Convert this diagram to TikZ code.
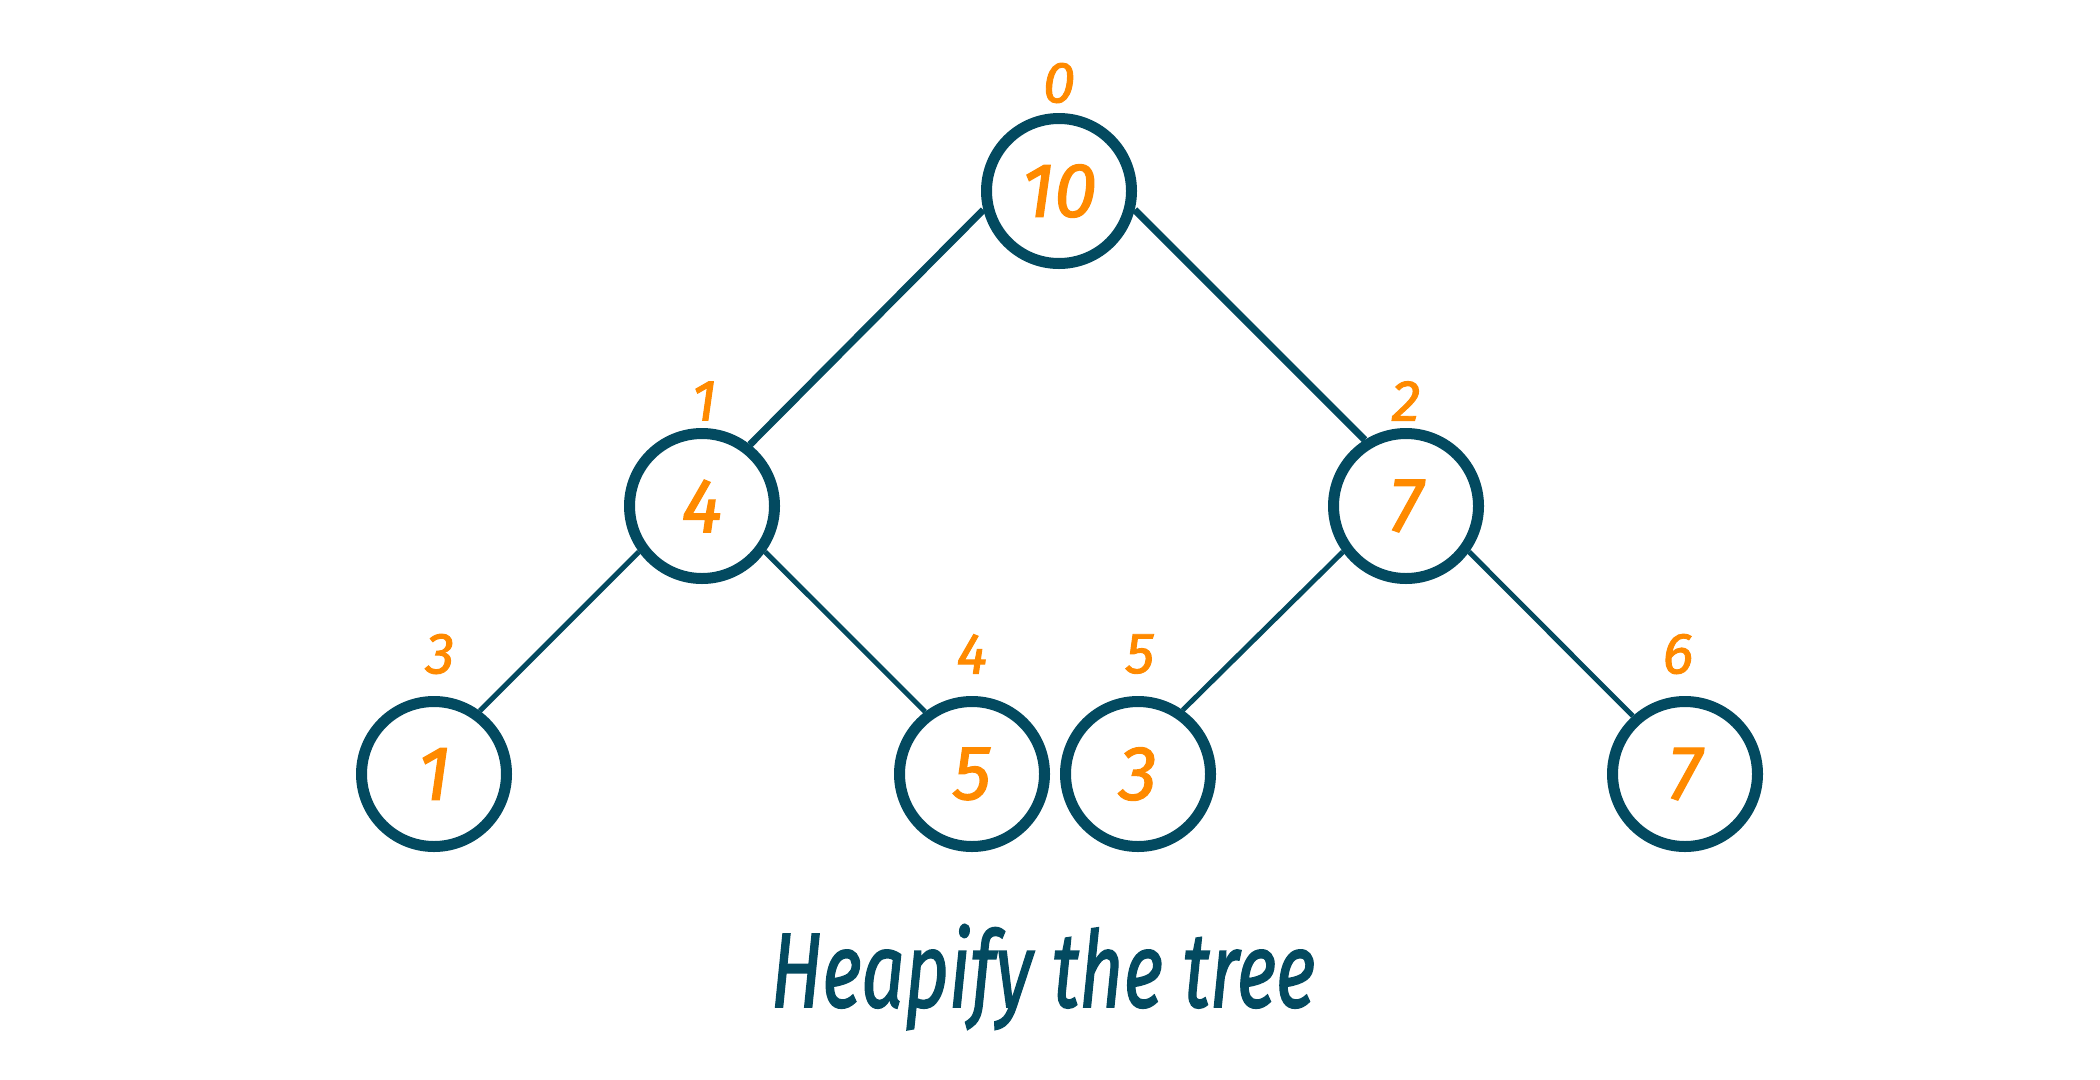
\documentclass[tikz,border=0pt]{standalone}
\usepackage{fontspec}
\setmainfont{Fira Sans}
\newfontfamily\hand{Fira Sans}[ItalicFeatures={FakeBold=1.6}]
\definecolor{teal}{HTML}{034A60}
\definecolor{orng}{HTML}{FF8A00}
\begin{document}
\begin{tikzpicture}[x=1pt,y=-1pt,
  heapnode/.style={circle,draw=teal,line width=11pt,minimum size=145pt,inner sep=0pt,
    text=orng,font=\fontsize{77}{77}\hand\itshape},
  idx/.style={text=orng,font=\fontsize{58}{58}\hand\itshape,inner sep=0pt},
  edgetop/.style={draw=teal,line width=7pt},
  edgelow/.style={draw=teal,line width=5pt}]
\useasboundingbox (0,0) rectangle (2100,1079);
\node[heapnode] (r) at (1059,191) {10};
\node[heapnode] (a) at (702,506) {4};
\node[heapnode] (b) at (1406,506) {7};
\node[heapnode] (c) at (434,774) {1};
\node[heapnode] (d) at (972,774) {5};
\node[heapnode] (e) at (1138,774) {3};
\node[heapnode] (f) at (1685,774) {7};
\node[idx] (i0) at (1059,83) {0};
\node[idx] (i1) at (704,401) {1};
\node[idx] (i2) at (1406,401) {2};
\node[idx] (i3) at (440,654) {3};
\node[idx] (i4) at (972,654) {4};
\node[idx] (i5) at (1140,654) {5};
\node[idx] (i6) at (1678,654) {6};
\draw[edgetop] (r.194) -- (a.52);
\draw[edgetop] (r.346) -- (b.122);
\draw[edgelow] (a.216) -- (c.54);
\draw[edgelow] (a.324) -- (d.127);
\draw[edgelow] (b.216) -- (e.55);
\draw[edgelow] (b.324) -- (f.132);
\node[anchor=base,text=teal,inner sep=0pt] (t) at (1043,1007)
  {\scalebox{0.72}[1]{\fontsize{106}{106}\hand\itshape Heapify the tree}};
\end{tikzpicture}
\end{document}
